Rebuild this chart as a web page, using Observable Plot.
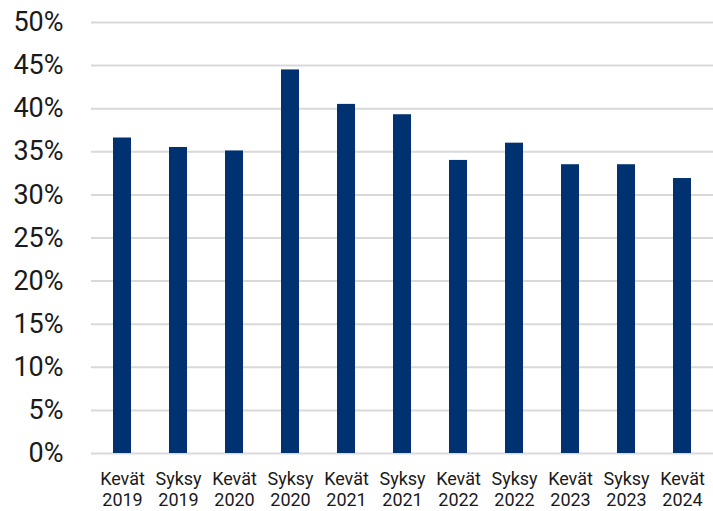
<!DOCTYPE html>
<html>
<head>
<meta charset="utf-8">
<script src="https://cdn.jsdelivr.net/npm/d3@7"></script>
<script src="https://cdn.jsdelivr.net/npm/@observablehq/plot@0.6"></script>
<style>
  html, body { margin: 0; padding: 0; background: #fff; }
  #chart svg { display: block; font-family: Roboto, sans-serif; }
</style>
</head>
<body>
<div id="chart"></div>
<script>
const labels = ["Kevät 2019", "Syksy 2019", "Kevät 2020", "Syksy 2020", "Kevät 2021", "Syksy 2021",
                "Kevät 2022", "Syksy 2022", "Kevät 2023", "Syksy 2023", "Kevät 2024"];
const values = [36.6, 35.5, 35.1, 44.5, 40.5, 39.3, 34.0, 36.0, 33.5, 33.5, 31.9];
const yTicks = [0, 5, 10, 15, 20, 25, 30, 35, 40, 45, 50];

const data = labels.map((label, i) => ({label, value: values[i]}));

const chart = Plot.plot({
  width: 713,
  height: 511,
  marginLeft: 91,
  marginRight: 0,
  marginTop: 22,
  marginBottom: 58,
  style: {fontFamily: "Roboto, sans-serif", background: "#fff"},
  x: {domain: labels, paddingInner: 0.68, paddingOuter: 0.34, label: null},
  y: {domain: [0, 50], label: null},
  marks: [
    Plot.gridY(yTicks, {stroke: "#d9d9d9", strokeOpacity: 1, strokeWidth: 2}),
    Plot.barY(data, {x: "label", y: "value", fill: "#003272"}),
    Plot.axisY(yTicks, {
      tickSize: 0, tickPadding: 28, fontSize: 27, fill: "#1a1a1a",
      tickFormat: d => d + "%", label: null
    }),
    Plot.axisX({
      tickSize: 0, tickPadding: 17, fontSize: 18, fill: "#1a1a1a", lineHeight: 1.15,
      tickFormat: d => d.replace(" ", "\n"), label: null
    })
  ]
});
document.getElementById("chart").appendChild(chart);
</script>
</body>
</html>
